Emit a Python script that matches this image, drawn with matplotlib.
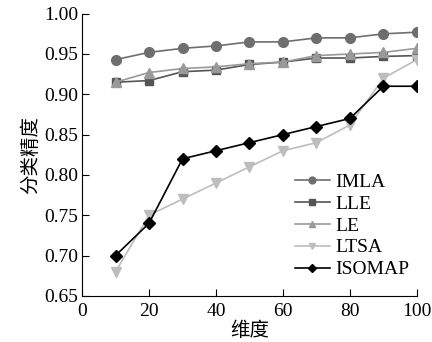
import matplotlib
matplotlib.use("Agg")
import matplotlib.pyplot as plt

dims = [10, 20, 30, 40, 50, 60, 70, 80, 90, 100]
imla = [0.943, 0.952, 0.957, 0.960, 0.965, 0.965, 0.970, 0.970, 0.975, 0.977]
lle = [0.915, 0.917, 0.928, 0.930, 0.937, 0.940, 0.945, 0.945, 0.947, 0.948]
le = [0.915, 0.927, 0.932, 0.934, 0.938, 0.940, 0.948, 0.950, 0.952, 0.957]
ltsa = [0.680, 0.750, 0.770, 0.790, 0.810, 0.830, 0.840, 0.862, 0.920, 0.943]
isomap = [0.700, 0.740, 0.820, 0.830, 0.840, 0.850, 0.860, 0.870, 0.910, 0.910]

plt.rcParams['font.family'] = ['Liberation Serif', 'Noto Sans CJK SC']
plt.rcParams['font.size'] = 14

fig = plt.figure(figsize=(4.32, 3.42), dpi=100)
ax = fig.add_axes([0.19, 0.135, 0.775, 0.825])

ax.plot(dims, imla, '-o', color='#6e6e6e', ms=7, lw=1.2, label='IMLA')
ax.plot(dims, lle, '-s', color='#555555', ms=6, lw=1.2, label='LLE')
ax.plot(dims, le, '-^', color='#999999', ms=7, lw=1.2, label='LE')
ax.plot(dims, ltsa, '-v', color='#bdbdbd', ms=7, lw=1.2, label='LTSA')
ax.plot(dims, isomap, '-D', color='black', ms=6, lw=1.2, label='ISOMAP')

ax.set_xlim(0, 100)
ax.set_ylim(0.65, 1.0)
ax.set_xticks([0, 20, 40, 60, 80, 100])
ax.set_yticks([0.65, 0.70, 0.75, 0.80, 0.85, 0.90, 0.95, 1.00])
ax.set_yticklabels(['%.2f' % v for v in ax.get_yticks()])
ax.spines['top'].set_visible(False)
ax.spines['right'].set_visible(False)
ax.tick_params(direction='in', length=5)
ax.tick_params(axis='y', pad=3)
ax.tick_params(axis='x', pad=5)
ax.set_xlabel('维度', family=['Noto Sans CJK SC'], fontsize=14, labelpad=0)
ax.set_ylabel('分类精度', family=['Noto Sans CJK SC'], fontsize=14, labelpad=2)

ax.legend(loc='lower right', bbox_to_anchor=(1.03, 0.0), frameon=False,
          handlelength=1.8, handletextpad=0.3, labelspacing=0.22, markerscale=0.7)

fig.savefig('out.png', dpi=100)
